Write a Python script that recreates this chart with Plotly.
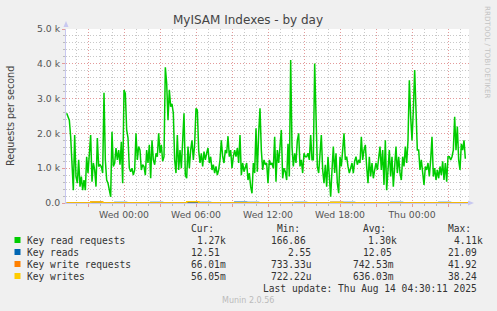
import pandas as pd
import plotly.graph_objects as go

# ---------------- data ----------------
series_start = "2025-08-12 19:13:20"
series_step = "400s"

# Key read requests (in thousands per second)
read_requests_k = [
    2.58, 2.5, 2.38, 1.9, 1.24, 0.37, 1.95, 0.76, 0.57, 1.24, 0.47, 0.76, 0.37, 0.66, 0.37, 1.33, 0.86,
    1.52, 1.95, 0.61, 1.15, 0.95, 0.47, 1.87, 1.05, 1.1, 1.05, 0.86, 3.17, 1.24, 0.66, 0.57, 0.37, 0.18,
    2.05, 1.05, 1.15, 1.58, 1.24, 1.52, 1.1, 1.76, 0.57, 3.25, 3.15, 2.1, 1.87, 1.0, 0.9,
    1.0, 0.8, 0.95, 2.0, 1.24, 1.62, 1.52, 0.95, 1.1, 1.05, 0.8, 1.52, 1.15, 1.67, 0.71, 1.8, 1.24, 1.1,
    1.43, 1.33, 2.0, 1.43, 1.67, 1.2, 1.33, 3.9, 3.44, 2.38, 3.25, 2.77, 2.85, 2.58, 1.24, 0.86, 1.95,
    0.95, 1.52, 1.0, 1.8, 2.58, 0.8, 0.71, 1.62, 1.0, 1.52, 1.8, 1.24, 1.7, 2.72,
    2.67, 1.52, 1.15, 1.43, 1.05, 1.48, 1.24, 1.43, 1.58, 1.15, 1.33, 0.95, 1.1, 0.86, 1.05, 0.8, 0.95,
    1.24, 1.8, 1.33, 1.15, 1.52, 1.43, 1.92, 1.33, 1.52, 1.0, 1.33, 1.52, 1.33, 1.58, 1.15, 1.95, 0.8,
    1.15, 0.9, 1.0, 1.15, 0.66, 0.86, 0.47, 0.28, 1.15, 0.86, 2.15, 0.9, 2.0, 2.72, 1.52, 0.95, 1.24,
    1.1, 1.15, 0.57, 1.24, 1.1, 1.15, 1.0, 1.9, 0.61, 1.52, 1.15, 1.62, 2.1, 0.71, 1.0, 0.9, 0.66, 1.7,
    0.76, 4.11, 1.62, 1.05, 1.43, 1.15, 1.8, 2.0, 1.05, 1.24, 0.86, 1.43, 1.33, 1.33, 1.43, 1.24, 1.95,
    1.24, 1.24, 4.01, 2.67, 1.05, 0.86, 1.43, 1.95, 0.95, 0.57, 1.1, 0.47, 1.33, 0.76, 0.18, 0.95,
    1.62, 0.86, 1.43, 0.57, 0.28, 1.33, 1.05, 1.52, 2.0, 1.24, 1.33, 1.05, 0.86, 1.0, 1.15, 0.86, 1.2,
    1.33, 1.1, 1.24, 1.15, 1.9, 1.24, 1.52, 1.67, 1.05, 0.57, 1.33, 0.76, 1.15, 0.71, 0.95, 1.15, 0.95,
    1.33, 1.62, 0.95, 1.52, 0.52, 1.8, 0.37, 1.15, 1.52, 0.76, 1.33, 0.47, 1.15, 1.62, 0.86, 1.33, 0.86,
    0.66, 1.33, 1.05, 1.62, 1.15, 1.8, 3.53, 2.48, 1.8, 2.67, 3.82, 2.67, 1.52, 1.52, 0.95, 1.24, 0.76,
    0.52, 1.05, 0.95, 1.15, 0.76, 1.24, 1.9, 0.76, 1.0, 0.66, 0.95, 0.71, 1.05, 0.8, 1.2, 0.66, 1.15,
    0.61, 1.33, 1.33, 1.24, 1.33, 1.52, 2.48, 1.52, 2.2, 1.24, 0.95, 1.7, 1.52, 1.8, 1.27,
]

# the small series near the baseline, hourly readings
small_start = "2025-08-12 19:13:20"
small_step = "60min"
key_reads = [12, 8, 14, 10, 18, 9, 12, 15, 11, 13, 20, 16, 10, 12, 21.09, 14, 9, 11, 13, 17,
             12, 10, 15, 14, 2.55, 11, 12, 16, 13, 9, 12, 14, 11, 13, 12.51]
key_write_requests = [0.05, 0.05, 30, 0.2, 0.05, 0.1, 0.05, 0.05, 0.1, 0.05, 41.92, 0.1, 0.05, 0.05, 0.2, 0.05,
                      0.1, 0.05, 0.05, 0.1, 0.05, 0.05, 20, 0.1, 0.05, 0.05, 0.1, 0.05, 0.05, 0.1, 0.05,
                      0.05, 0.1, 0.05, 0.066]
key_writes = [0.05, 0.05, 26, 0.2, 0.05, 0.1, 0.05, 0.05, 0.1, 0.05, 38.24, 0.1, 0.05, 0.05, 0.2, 0.05,
              0.1, 0.05, 0.05, 0.1, 0.05, 0.05, 17, 0.1, 0.05, 0.05, 0.1, 0.05, 0.05, 0.1, 0.05,
              0.05, 0.1, 0.05, 0.056]

x_range = ["2025-08-12 19:10", "2025-08-14 04:45"]
x_tick_vals = ["2025-08-12 21:00", "2025-08-13 00:00", "2025-08-13 03:00", "2025-08-13 06:00",
               "2025-08-13 09:00", "2025-08-13 12:00", "2025-08-13 15:00", "2025-08-13 18:00",
               "2025-08-13 21:00", "2025-08-14 00:00", "2025-08-14 03:00"]
x_tick_text = ["", "Wed 00:00", "", "Wed 06:00", "", "Wed 12:00", "", "Wed 18:00", "", "Thu 00:00", ""]
y_tick_vals = [0, 1000, 2000, 3000, 4000, 5000]
y_tick_text = ["0.0", "1.0 k", "2.0 k", "3.0 k", "4.0 k", "5.0 k"]

series_names = ["Key read requests", "Key reads", "Key write requests", "Key writes"]
series_colors = ["#00CC00", "#0066B3", "#FF8000", "#FFCC00"]
cur_vals = ["1.27k", "12.51", "66.01m", "56.05m"]
min_vals = ["166.86", "2.55", "733.33u", "722.22u"]
avg_vals = ["1.30k", "12.05", "742.53m", "636.03m"]
max_vals = ["4.11k", "21.09", "41.92", "38.24"]

title_text = "MyISAM Indexes - by day"
y_title = "Requests per second"
last_update = "Last update: Thu Aug 14 04:30:11 2025"
footer = "Munin 2.0.56"
side_text = "RRDTOOL / TOBI OETIKER"

# ---------------- figure ----------------
W, H = 497, 311
L, R, T, B = 66, 469, 29, 203


def px(x):
    return (x - L) / (R - L)


def py(y):
    return (B - y) / (B - T)


t_main = pd.date_range(series_start, periods=len(read_requests_k), freq=series_step)
t_small = pd.date_range(small_start, periods=len(key_reads), freq=small_step)

fig = go.Figure()
fig.add_trace(go.Scatter(x=t_main, y=[v * 1000 for v in read_requests_k], mode="lines",
                         line=dict(color=series_colors[0], width=1.5), name=series_names[0]))
fig.add_trace(go.Scatter(x=t_small, y=key_reads, mode="lines", line_shape="hv",
                         line=dict(color=series_colors[1], width=1.3), name=series_names[1]))
fig.add_trace(go.Scatter(x=t_small, y=key_write_requests, mode="lines", line_shape="hv",
                         line=dict(color=series_colors[2], width=1.3), name=series_names[2]))
fig.add_trace(go.Scatter(x=t_small, y=key_writes, mode="lines", line_shape="hv",
                         line=dict(color=series_colors[3], width=1.3), name=series_names[3]))

major_grid = "#E39A9A"
minor_grid = "#C8C8C8"
axis_col = "#C8C8F0"
fine_dot = "1px,2px"
tick_font = dict(family="DejaVu Sans", size=9.3, color="#555555")

fig.update_layout(
    width=W, height=H,
    margin=dict(l=L, r=W - R, t=T, b=H - B, pad=0),
    paper_bgcolor="#F0F0F0", plot_bgcolor="#FFFFFF",
    showlegend=False,
    xaxis=dict(range=x_range, tickmode="array", tickvals=x_tick_vals, ticktext=x_tick_text,
               showgrid=True, gridcolor=major_grid, griddash=fine_dot, gridwidth=1,
               ticks="outside", ticklen=3, tickcolor=major_grid, tickfont=tick_font,
               showline=True, linecolor=axis_col, linewidth=1, zeroline=False,
               layer="below traces",
               minor=dict(dtick=3600000, showgrid=True, gridcolor=minor_grid, griddash=fine_dot,
                          ticks="outside", ticklen=2, tickcolor="#BBBBBB")),
    yaxis=dict(range=[0, 5000], tickmode="array", tickvals=y_tick_vals, ticktext=y_tick_text,
               showgrid=True, gridcolor=major_grid, griddash=fine_dot, gridwidth=1,
               ticks="outside", ticklen=3, tickcolor=major_grid, tickfont=tick_font,
               showline=True, linecolor=axis_col, linewidth=1, zeroline=False,
               layer="below traces",
               minor=dict(dtick=200, showgrid=True, gridcolor=minor_grid, griddash=fine_dot,
                          ticks="outside", ticklen=2, tickcolor="#BBBBBB")),
)

shapes = []
# axis arrows
shapes.append(dict(type="path", xref="paper", yref="paper",
                   path=f"M {px(63.5)} {py(27)} L {px(68.5)} {py(27)} L {px(66)} {py(21)} Z",
                   fillcolor=axis_col, line=dict(width=0)))
shapes.append(dict(type="path", xref="paper", yref="paper",
                   path=f"M {px(468)} {py(200.5)} L {px(468)} {py(205.5)} L {px(474)} {py(203)} Z",
                   fillcolor=axis_col, line=dict(width=0)))
ann = []


def text(x, y, s, size=9.6, color="#333333", family="DejaVu Sans Mono", xanchor="left", angle=0):
    ann.append(dict(x=px(x), y=py(y), xref="paper", yref="paper", text=s, showarrow=False,
                    xanchor=xanchor, yanchor="middle", textangle=angle, borderpad=0,
                    font=dict(family=family, size=size, color=color)))


text(248, 19.5, title_text, size=12, color="#444444", family="DejaVu Sans", xanchor="center")
text(10, 116, y_title, size=9.6, color="#444444", family="DejaVu Sans", xanchor="center", angle=-90)
text(488, 53, side_text, size=7.2, color="#C4C4C4", family="DejaVu Sans", xanchor="center", angle=90)

# legend
text(190, 228, "Cur:")
text(276, 228, "Min:")
text(361.7, 228, "Avg:")
text(446.7, 228, "Max:")
row_y = [240, 252, 264, 276]
cur_x = [196, 190, 190, 190]
min_x = [270, 286.7, 270, 270]
avg_x = [366.7, 361.7, 352, 352]
max_x = [453, 446.7, 446.7, 446.7]
for i in range(4):
    y = row_y[i]
    shapes.append(dict(type="rect", xref="paper", yref="paper",
                       x0=px(14.5), x1=px(20.5), y0=py(y + 3), y1=py(y - 3),
                       fillcolor=series_colors[i], line=dict(width=0)))
    text(26, y, series_names[i])
    text(cur_x[i], y, cur_vals[i])
    text(min_x[i], y, min_vals[i])
    text(avg_x[i], y, avg_vals[i])
    text(max_x[i], y, max_vals[i])
text(261.7, 288, last_update)
text(248, 300, footer, size=8, color="#BBBBBB", family="DejaVu Sans", xanchor="center")

fig.update_layout(shapes=shapes, annotations=ann)
fig.write_html("out.html")
